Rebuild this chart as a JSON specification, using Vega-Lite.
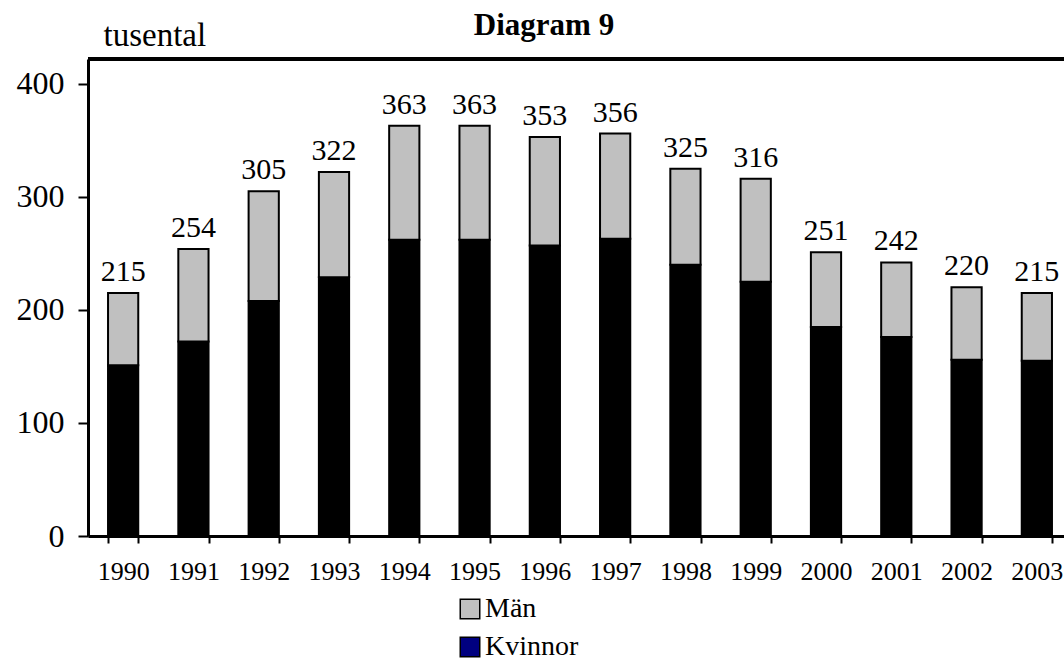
{
  "$schema": "https://vega.github.io/schema/vega-lite/v6.json",
  "width": 976,
  "height": 477,
  "autosize": {"type": "none"},
  "padding": {"left": 88, "top": 59, "right": 0, "bottom": 124},
  "background": "white",
  "config": {
    "view": {"stroke": null},
    "font": "Liberation Serif",
    "axis": {"grid": false, "domainColor": "black", "tickColor": "black", "labelColor": "black", "titleColor": "black", "labelFont": "Liberation Serif", "titleFont": "Liberation Serif"}
  },
  "title": {
    "text": "Diagram 9",
    "font": "Liberation Serif",
    "fontSize": 31,
    "fontWeight": "bold",
    "color": "black",
    "anchor": "middle",
    "frame": "group",
    "dx": -32,
    "dy": 31,
    "baseline": "alphabetic",
    "offset": -16
  },
  "data": {
    "values": [
      {"year": "1990", "serie": "Kvinnor", "value": 151},
      {"year": "1990", "serie": "Män", "value": 64},
      {"year": "1991", "serie": "Kvinnor", "value": 172},
      {"year": "1991", "serie": "Män", "value": 82},
      {"year": "1992", "serie": "Kvinnor", "value": 208},
      {"year": "1992", "serie": "Män", "value": 97},
      {"year": "1993", "serie": "Kvinnor", "value": 229},
      {"year": "1993", "serie": "Män", "value": 93},
      {"year": "1994", "serie": "Kvinnor", "value": 262},
      {"year": "1994", "serie": "Män", "value": 101},
      {"year": "1995", "serie": "Kvinnor", "value": 262},
      {"year": "1995", "serie": "Män", "value": 101},
      {"year": "1996", "serie": "Kvinnor", "value": 257},
      {"year": "1996", "serie": "Män", "value": 96},
      {"year": "1997", "serie": "Kvinnor", "value": 263},
      {"year": "1997", "serie": "Män", "value": 93},
      {"year": "1998", "serie": "Kvinnor", "value": 240},
      {"year": "1998", "serie": "Män", "value": 85},
      {"year": "1999", "serie": "Kvinnor", "value": 225},
      {"year": "1999", "serie": "Män", "value": 91},
      {"year": "2000", "serie": "Kvinnor", "value": 185},
      {"year": "2000", "serie": "Män", "value": 66},
      {"year": "2001", "serie": "Kvinnor", "value": 176},
      {"year": "2001", "serie": "Män", "value": 66},
      {"year": "2002", "serie": "Kvinnor", "value": 156},
      {"year": "2002", "serie": "Män", "value": 64},
      {"year": "2003", "serie": "Kvinnor", "value": 155},
      {"year": "2003", "serie": "Män", "value": 60}
    ]
  },
  "layer": [
    {
      "mark": {"type": "point", "shape": "square", "filled": true, "size": 4, "opacity": 1},
      "encoding": {
        "x": {
          "field": "year",
          "type": "ordinal",
          "scale": {"range": [0, 984], "paddingInner": 0.57, "paddingOuter": 0.285},
          "axis": {
            "title": null,
            "labelAngle": 0,
            "labelAlign": "center",
            "labelFontSize": 26,
            "labelBaseline": "alphabetic",
            "labelPadding": 36,
            "tickSize": 7,
            "tickWidth": 2,
            "tickBand": "extent",
            "domainWidth": 3
          }
        },
        "y": {"field": "value", "type": "quantitative"},
        "fill": {
          "field": "serie",
          "type": "nominal",
          "scale": {"domain": ["Män", "Kvinnor"], "range": ["#c0c0c0", "#000080"]},
          "legend": {
            "title": null,
            "orient": "none",
            "legendX": 368,
            "legendY": 536,
            "symbolType": "square",
            "symbolSize": 380,
            "symbolStrokeColor": "black",
            "symbolStrokeWidth": 1.5,
            "symbolOpacity": 1,
            "labelFont": "Liberation Serif",
            "labelFontSize": 28,
            "labelColor": "black",
            "labelOffset": 1,
            "rowPadding": 10,
            "padding": 0
          }
        }
      }
    },
    {
      "mark": {"type": "bar", "stroke": "black", "strokeWidth": 2},
      "encoding": {
        "x": {
          "field": "year",
          "type": "ordinal",
          "scale": {"range": [0, 984], "paddingInner": 0.57, "paddingOuter": 0.285},
          "axis": {
            "title": null,
            "labelAngle": 0,
            "labelAlign": "center",
            "labelFontSize": 26,
            "labelBaseline": "alphabetic",
            "labelPadding": 36,
            "tickSize": 7,
            "tickWidth": 2,
            "tickBand": "extent",
            "domainWidth": 3
          }
        },
        "y": {
          "field": "value",
          "type": "quantitative",
          "stack": "zero",
          "scale": {"domain": [0, 422], "nice": false},
          "axis": {
            "values": [0, 100, 200, 300, 400],
            "title": "tusental",
            "titleAngle": 0,
            "titleAlign": "left",
            "titleBaseline": "alphabetic",
            "titleX": 15,
            "titleY": -14,
            "titleFontSize": 33,
            "titleFontWeight": "normal",
            "labelFontSize": 32,
            "labelPadding": 14,
            "tickSize": 10,
            "tickWidth": 2,
            "domainWidth": 3
          }
        },
        "color": {
          "field": "serie",
          "type": "nominal",
          "scale": {"domain": ["Män", "Kvinnor"], "range": ["#c0c0c0", "#000000"]},
          "legend": null
        },
        "order": {"field": "serie", "sort": "ascending"}
      }
    },
    {
      "transform": [{"aggregate": [{"op": "sum", "field": "value", "as": "total"}], "groupby": ["year"]}],
      "mark": {"type": "text", "baseline": "alphabetic", "dy": -12, "fontSize": 30, "font": "Liberation Serif", "color": "black"},
      "encoding": {
        "x": {"field": "year", "type": "ordinal"},
        "y": {"field": "total", "type": "quantitative"},
        "text": {"field": "total", "type": "quantitative"}
      }
    },
    {
      "mark": {"type": "rule", "color": "black", "strokeWidth": 3},
      "encoding": {"y": {"datum": 422}}
    }
  ]
}
